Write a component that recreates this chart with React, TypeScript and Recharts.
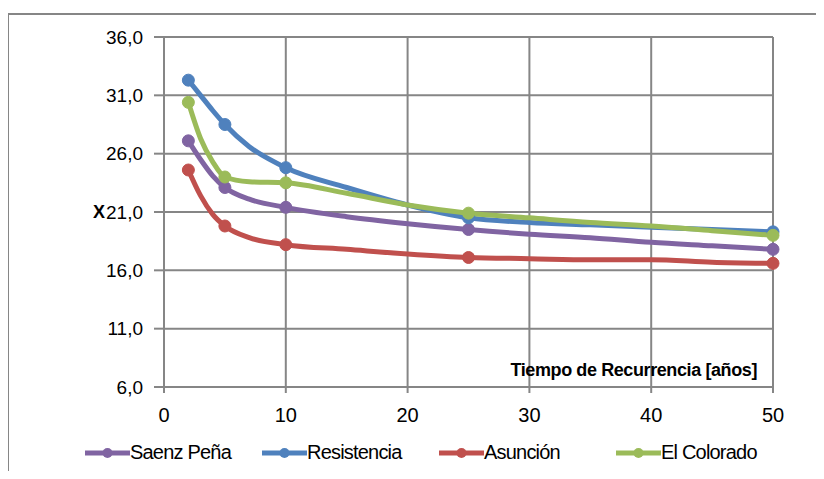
import React from "react";
import {
  LineChart,
  Line,
  XAxis,
  YAxis,
  CartesianGrid,
  Legend,
  Label,
} from "recharts";

// Periodos de retorno (años)
const periods = [2, 3, 4, 5, 7, 10, 15, 20, 25, 30, 35, 40, 45, 50];
// Periodos que llevan marcador
const markedPeriods = [2, 5, 10, 25, 50];

const saenzPena = [27.1, 25.5, 24.1, 23.1, 22.1, 21.4, 20.6, 20.0, 19.5, 19.1, 18.8, 18.4, 18.1, 17.8];
const resistencia = [32.3, 31.0, 29.7, 28.5, 26.6, 24.8, 23.1, 21.6, 20.5, 20.1, 19.9, 19.7, 19.5, 19.3];
const asuncion = [24.6, 22.4, 20.8, 19.8, 18.8, 18.2, 17.8, 17.4, 17.1, 17.0, 16.9, 16.9, 16.7, 16.6];
const elColorado = [30.4, 27.3, 25.3, 24.0, 23.6, 23.5, 22.6, 21.6, 20.9, 20.5, 20.1, 19.8, 19.4, 19.0];

const xTicks = [0, 10, 20, 30, 40, 50];
const yTicks = [6, 11, 16, 21, 26, 31, 36];

const series = [
  { key: "saenz", name: "Saenz Peña", color: "#8064A2" },
  { key: "resistencia", name: "Resistencia", color: "#4F81BD" },
  { key: "asuncion", name: "Asunción", color: "#C0504D" },
  { key: "colorado", name: "El Colorado", color: "#9BBB59" },
];

const chartData = periods.map((x, i) => ({
  x,
  saenz: saenzPena[i],
  resistencia: resistencia[i],
  asuncion: asuncion[i],
  colorado: elColorado[i],
}));

const gridColor = "#868686";
const font = "'Liberation Sans', Arial, sans-serif";

const comma = (v: number) => v.toFixed(1).replace(".", ",");

const markerDot = (color: string) => (props: any) => {
  const { cx, cy, payload, index } = props;
  if (!markedPeriods.includes(payload.x)) return <g key={`d-${index}`} />;
  return <circle key={`d-${index}`} cx={cx} cy={cy} r={6} fill={color} stroke={color} />;
};

const renderLegend = () => (
  <div
    style={{
      display: "flex",
      paddingLeft: 85,
      fontFamily: font,
      fontSize: 20,
      color: "#000",
      whiteSpace: "nowrap",
    }}
  >
    {series.map((s) => (
      <div key={s.key} style={{ display: "flex", alignItems: "center", width: 177 }}>
        <svg width={45} height={16} style={{ flexShrink: 0 }}>
          <line x1={0} y1={8} x2={45} y2={8} stroke={s.color} strokeWidth={5} />
          <circle cx={22.5} cy={8} r={5} fill={s.color} />
        </svg>
        <span style={{ letterSpacing: -0.8 }}>{s.name}</span>
      </div>
    ))}
  </div>
);

const App: React.FC = () => {
  return (
    <div
      style={{
        position: "relative",
        width: 824,
        height: 479,
        margin: -8,
        overflow: "hidden",
        background: "#fff",
      }}
    >
      <div
        style={{
          position: "absolute",
          left: 7,
          top: 13,
          width: 900,
          height: 600,
          border: `2px solid ${gridColor}`,
        }}
      />
      <LineChart
        width={824}
        height={479}
        data={chartData}
        margin={{ top: 37, right: 51, left: 92, bottom: 10 }}
        style={{ position: "absolute", left: 0, top: 0 }}
      >
        <CartesianGrid stroke={gridColor} strokeWidth={2} horizontalValues={yTicks} verticalValues={xTicks} />
        <XAxis
          dataKey="x"
          type="number"
          domain={[0, 50]}
          ticks={xTicks}
          height={54}
          tickSize={6}
          tickMargin={15}
          axisLine={{ stroke: gridColor, strokeWidth: 2 }}
          tickLine={{ stroke: gridColor, strokeWidth: 2 }}
          tick={{ fill: "#000", fontSize: 20, fontFamily: font }}
        >
          <Label
            content={(props: any) => {
              const vb = props.viewBox;
              return (
                <text
                  x={vb.x + vb.width - 16}
                  y={vb.y - 11}
                  textAnchor="end"
                  fontFamily={font}
                  fontWeight="bold"
                  fontSize={18}
                  letterSpacing={-0.4}
                  fill="#000"
                >
                  Tiempo de Recurrencia [años]
                </text>
              );
            }}
          />
        </XAxis>
        <YAxis
          type="number"
          domain={[6, 36]}
          ticks={yTicks}
          width={72}
          tickSize={10}
          tickMargin={11}
          tickFormatter={comma}
          axisLine={{ stroke: gridColor, strokeWidth: 2 }}
          tickLine={{ stroke: gridColor, strokeWidth: 2 }}
          tick={{ fill: "#000", fontSize: 19, fontFamily: font }}
        >
          <Label
            value="X"
            position="insideLeft"
            offset={1}
            style={{ fontFamily: font, fontWeight: "bold", fontSize: 18, fill: "#000" }}
          />
        </YAxis>
        <Legend
          verticalAlign="bottom"
          height={28}
          content={renderLegend}
          wrapperStyle={{ left: 0, width: 824 }}
        />
        {series.map((s) => (
          <Line
            key={s.key}
            dataKey={s.key}
            name={s.name}
            type="monotone"
            stroke={s.color}
            strokeWidth={5}
            dot={markerDot(s.color)}
            activeDot={false}
            isAnimationActive={false}
          />
        ))}
      </LineChart>
    </div>
  );
};

export default App;
